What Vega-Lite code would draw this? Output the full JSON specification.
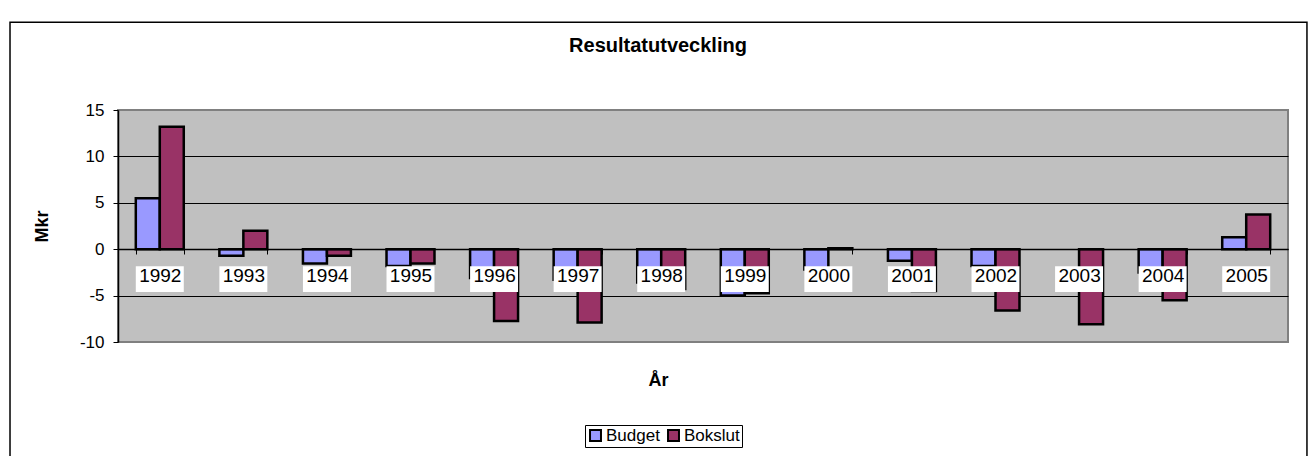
{
  "$schema": "https://vega.github.io/schema/vega-lite/v6.json",
  "autosize": {"type": "none"},
  "width": 1170,
  "height": 232,
  "padding": {"left": 118, "top": 110, "right": 23, "bottom": 114},
  "background": "white",
  "config": {
    "font": "Liberation Sans",
    "view": {"fill": "#C0C0C0", "stroke": "#808080", "strokeWidth": 2}
  },
  "title": {
    "text": "Resultatutveckling",
    "fontSize": 20,
    "fontWeight": "bold",
    "font": "Liberation Sans",
    "color": "black",
    "anchor": "middle",
    "dx": -45,
    "baseline": "alphabetic",
    "offset": -50
  },
  "datasets": {
    "main": [
      {"year": "1992", "serie": "Budget", "value": 5.5},
      {"year": "1992", "serie": "Bokslut", "value": 13.2},
      {"year": "1993", "serie": "Budget", "value": -0.7},
      {"year": "1993", "serie": "Bokslut", "value": 2.0},
      {"year": "1994", "serie": "Budget", "value": -1.55},
      {"year": "1994", "serie": "Bokslut", "value": -0.7},
      {"year": "1995", "serie": "Budget", "value": -1.8},
      {"year": "1995", "serie": "Bokslut", "value": -1.55},
      {"year": "1996", "serie": "Budget", "value": -3.1},
      {"year": "1996", "serie": "Bokslut", "value": -7.75},
      {"year": "1997", "serie": "Budget", "value": -3.3},
      {"year": "1997", "serie": "Bokslut", "value": -7.9},
      {"year": "1998", "serie": "Budget", "value": -3.6},
      {"year": "1998", "serie": "Bokslut", "value": -4.3},
      {"year": "1999", "serie": "Budget", "value": -5.0},
      {"year": "1999", "serie": "Bokslut", "value": -4.75},
      {"year": "2000", "serie": "Budget", "value": -2.2},
      {"year": "2000", "serie": "Bokslut", "value": 0.1},
      {"year": "2001", "serie": "Budget", "value": -1.25},
      {"year": "2001", "serie": "Bokslut", "value": -4.5},
      {"year": "2002", "serie": "Budget", "value": -1.8},
      {"year": "2002", "serie": "Bokslut", "value": -6.6},
      {"year": "2003", "serie": "Bokslut", "value": -8.1},
      {"year": "2004", "serie": "Budget", "value": -2.5},
      {"year": "2004", "serie": "Bokslut", "value": -5.5},
      {"year": "2005", "serie": "Budget", "value": 1.3},
      {"year": "2005", "serie": "Bokslut", "value": 3.75}
    ],
    "years": [
      {"year": "1992"}, {"year": "1993"}, {"year": "1994"}, {"year": "1995"},
      {"year": "1996"}, {"year": "1997"}, {"year": "1998"}, {"year": "1999"},
      {"year": "2000"}, {"year": "2001"}, {"year": "2002"}, {"year": "2003"},
      {"year": "2004"}, {"year": "2005"}
    ],
    "frame": [{"k": 1}]
  },
  "resolve": {"scale": {"x": "independent"}},
  "layer": [
    {
      "data": {"name": "frame"},
      "mark": {"type": "rect", "fill": "transparent", "stroke": "black", "strokeWidth": 1.5},
      "encoding": {
        "x": {"datum": -0.0923, "type": "quantitative", "scale": {"domain": [0, 1]}, "axis": null},
        "x2": {"datum": 1.0162},
        "y": {"datum": 24.45, "type": "quantitative", "scale": {"domain": [-10, 15], "nice": false}},
        "y2": {"datum": -25}
      }
    },
    {
      "layer": [
        {
          "data": {"name": "main"},
          "mark": {"type": "bar", "stroke": "black", "strokeWidth": 2.5},
          "encoding": {
            "x": {
              "field": "year",
              "type": "nominal",
              "scale": {"paddingInner": 0.426, "paddingOuter": 0.213},
              "axis": {
                "title": "År",
                "titleFontSize": 18,
                "titleFontWeight": "bold",
                "titleColor": "black",
                "titleX": 540,
                "titleY": 131,
                "titleAlign": "center",
                "titleBaseline": "middle",
                "labelAngle": 0,
                "labelFontSize": 19,
                "labelColor": "black",
                "labelPadding": 12,
                "offset": -93,
                "tickBand": "extent",
                "tickSize": 5,
                "tickColor": "black",
                "domainColor": "black",
                "domainWidth": 1.5,
                "grid": false,
                "zindex": 1
              }
            },
            "xOffset": {"field": "serie", "type": "nominal", "sort": ["Budget", "Bokslut"], "scale": {"domain": ["Budget", "Bokslut"], "paddingInner": 0, "paddingOuter": 0}},
            "y": {
              "field": "value",
              "type": "quantitative",
              "scale": {"domain": [-10, 15], "nice": false},
              "axis": {
                "values": [-10, -5, 0, 5, 10, 15],
                "labelExpr": "'' + datum.value",
                "title": "Mkr",
                "titleFontSize": 18,
                "titleFontWeight": "bold",
                "titleColor": "black",
                "titleX": -76,
                "titleY": 116,
                "titleAlign": "center",
                "titleBaseline": "middle",
                "labelFontSize": 17,
                "labelColor": "black",
                "labelPadding": 9,
                "tickSize": 5,
                "tickColor": "black",
                "domainColor": "black",
                "domainWidth": 1.5,
                "grid": true,
                "gridColor": {"condition": {"test": "datum.value === 15 || datum.value === -10", "value": "#808080"}, "value": "black"},
                "gridWidth": 1
              }
            },
            "fill": {
              "field": "serie",
              "type": "nominal",
              "scale": {"domain": ["Budget", "Bokslut"], "range": ["#9999FF", "#993366"]},
              "legend": {
                "orient": "none",
                "legendX": 467,
                "legendY": 315,
                "direction": "horizontal",
                "title": null,
                "strokeColor": "black",
                "fillColor": "white",
                "padding": 2,
                "symbolType": "square",
                "symbolSize": 120,
                "symbolStrokeColor": "black",
                "symbolStrokeWidth": 2,
                "labelFontSize": 17,
                "labelColor": "black",
                "labelOffset": 2,
                "columnPadding": 4
              }
            }
          }
        },
        {
          "data": {"name": "years"},
          "mark": {"type": "bar", "fill": "white", "width": {"band": 1}},
          "encoding": {
            "x": {"field": "year", "type": "nominal"},
            "y": {"datum": -1.85, "type": "quantitative"},
            "y2": {"datum": -4.6}
          }
        }
      ]
    }
  ]
}
